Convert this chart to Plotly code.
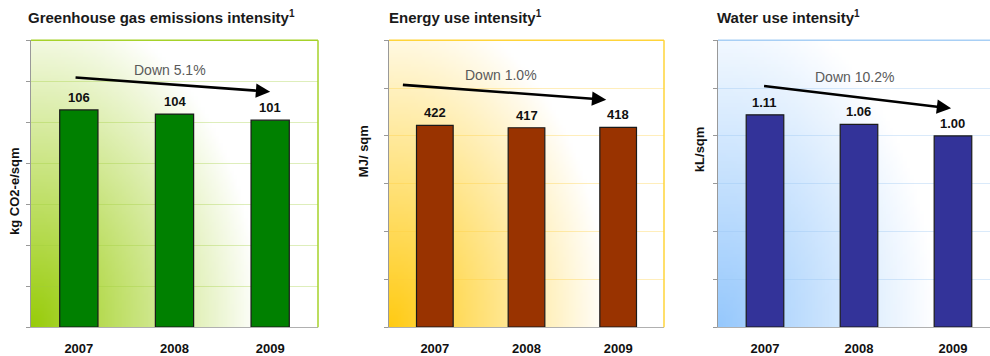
import base64, struct, zlib, math
import plotly.graph_objects as go

# ---------------- data ----------------
years = ["2007", "2008", "2009"]
ghg_values = [106, 104, 101]
ghg_labels = ["106", "104", "101"]
energy_values = [422, 417, 418]
energy_labels = ["422", "417", "418"]
water_values = [1.11, 1.06, 1.00]
water_labels = ["1.11", "1.06", "1.00"]

titles = ["Greenhouse gas emissions intensity",
          "Energy use intensity",
          "Water use intensity"]
title_note = "1"
axis_titles = ["kg CO2-e/sqm", "MJ/ sqm", "kL/sqm"]
trend_texts = ["Down 5.1%", "Down 1.0%", "Down 10.2%"]

# ---------------- style ----------------
FONT = "Liberation Sans, Arial, sans-serif"
bar_colors = ["#008000", "#993300", "#333399"]
corner_rgb = [(152, 204, 10), (255, 203, 20), (150, 200, 252)]
border_colors = ["#a6d22a", "#ffd43a", "#a8cff5"]
grid_colors = ["rgba(160,205,60,0.35)", "rgba(255,205,60,0.35)", "rgba(150,195,240,0.35)"]
y_ranges = [[0, 140], [0, 600], [0, 1.5]]
y_dticks = [20, 100, 0.25]
x_ranges = [[-0.5, 2.5], [-0.5, 2.5], [-0.5, 2.394]]
x_domains = [[31 / 990, 318 / 990], [389 / 990, 664 / 990], [718 / 990, 1.0]]
y_domain = [27 / 356, 315.5 / 356]

# arrow (tail x, tail y, head x, head y) and label anchor in data coords
arrows = [(-0.05, 121.9, 2.0, 114.9), (-0.365, 507, 1.87, 475.6), (-0.026, 1.262, 1.98, 1.144)]
trend_pos = [(0.953, 125.6), (0.726, 527.7), (0.953, 1.307)]
title_x = [26 / 990, 387 / 990, 715 / 990]
axis_title_pos = [(15 / 990, 193), (363 / 990, 152), (699 / 990, 150)]


def gradient_png(rgb, w=80, h=80):
    rows = []
    for j in range(h):
        v = 1 - j / (h - 1)  # 0 bottom, 1 top
        row = bytearray([0])
        for i in range(w):
            u = i / (w - 1)
            d = math.sqrt((u / 0.8) ** 2 + (v / 1.15) ** 2)
            t = max(0.0, 1 - d)
            for c in rgb:
                row.append(int(round(255 * (1 - t) + c * t)))
        rows.append(bytes(row))
    raw = b"".join(rows)

    def chunk(tag, data):
        return struct.pack(">I", len(data)) + tag + data + struct.pack(">I", zlib.crc32(tag + data) & 0xffffffff)

    png = b"\x89PNG\r\n\x1a\n" + chunk(b"IHDR", struct.pack(">IIBBBBB", w, h, 8, 2, 0, 0, 0)) \
        + chunk(b"IDAT", zlib.compress(raw, 9)) + chunk(b"IEND", b"")
    return "data:image/png;base64," + base64.b64encode(png).decode()


fig = go.Figure()
series = [(ghg_values, ghg_labels), (energy_values, energy_labels), (water_values, water_labels)]
annotations = []
images = []
shapes = []
for k, (vals, labs) in enumerate(series):
    xa = "x" if k == 0 else f"x{k + 1}"
    ya = "y" if k == 0 else f"y{k + 1}"
    fig.add_trace(go.Bar(x=years, y=vals, width=0.4, xaxis=xa, yaxis=ya,
                         marker=dict(color=bar_colors[k], line=dict(color="#1a1a1a", width=1.2)),
                         hoverinfo="skip", showlegend=False))
    for i, (v, lab) in enumerate(zip(vals, labs)):
        annotations.append(dict(x=i, y=v, xref=xa, yref=ya, text=f"<b>{lab}</b>", showarrow=False,
                                yanchor="bottom", yshift=3, font=dict(family=FONT, size=13, color="#111")))
    tx, ty, hx, hy = arrows[k]
    annotations.append(dict(x=hx, y=hy, ax=tx, ay=ty, xref=xa, yref=ya, axref=xa, ayref=ya,
                            text="", showarrow=True, arrowhead=2, arrowsize=1.1, arrowwidth=2.6,
                            arrowcolor="#000"))
    px, py = trend_pos[k]
    annotations.append(dict(x=px, y=py, xref=xa, yref=ya, text=trend_texts[k], showarrow=False,
                            font=dict(family=FONT, size=14, color="#5a5a5a")))
    annotations.append(dict(x=title_x[k], y=1 - 17 / 356, xref="paper", yref="paper", xanchor="left",
                            yanchor="middle",
                            text=f"<b>{titles[k]}<sup><span style='font-size:10px'>{title_note}</span></sup></b>",
                            showarrow=False, font=dict(family=FONT, size=15, color="#1a1a1a")))
    ax_x, ax_py = axis_title_pos[k]
    annotations.append(dict(x=ax_x, y=1 - ax_py / 356, xref="paper", yref="paper", textangle=-90,
                            xanchor="center", yanchor="middle",
                            text=f"<b>{axis_titles[k]}</b>", showarrow=False,
                            font=dict(family=FONT, size=13, color="#111")))
    images.append(dict(source=gradient_png(corner_rgb[k]), xref=f"{xa} domain", yref=f"{ya} domain",
                       x=0, y=1, sizex=1, sizey=1, sizing="stretch", xanchor="left", yanchor="top",
                       layer="below"))
    # coloured top / right border
    shapes.append(dict(type="line", xref=f"{xa} domain", yref=f"{ya} domain", x0=0, x1=1, y0=1, y1=1,
                       line=dict(color=border_colors[k], width=1.5)))
    if k < 2:
        shapes.append(dict(type="line", xref=f"{xa} domain", yref=f"{ya} domain", x0=1, x1=1, y0=0, y1=1,
                           line=dict(color=border_colors[k], width=1.5)))

    xkey = "xaxis" if k == 0 else f"xaxis{k + 1}"
    ykey = "yaxis" if k == 0 else f"yaxis{k + 1}"
    fig.update_layout(**{
        xkey: dict(domain=x_domains[k], anchor=ya, type="category", range=x_ranges[k],
                   showgrid=False, showline=True, linecolor="#b0b0b0", linewidth=1,
                   ticks="", tickfont=dict(family=FONT, size=13, color="#111"),
                   ticklabelstandoff=9, tickprefix="<b>", ticksuffix="</b>", fixedrange=True),
        ykey: dict(domain=y_domain, anchor=xa, range=y_ranges[k], dtick=y_dticks[k], tick0=0,
                   showgrid=True, gridcolor=grid_colors[k], gridwidth=1, showline=True,
                   linecolor="#999", linewidth=1, ticks="outside", ticklen=4, tickcolor="#999",
                   showticklabels=False, zeroline=False, fixedrange=True),
    })

fig.update_layout(width=990, height=356, margin=dict(l=0, r=0, t=0, b=0),
                  paper_bgcolor="white", plot_bgcolor="rgba(0,0,0,0)",
                  annotations=annotations, images=images, shapes=shapes,
                  font=dict(family=FONT), bargap=0.6)
fig.write_html("out.html", config={"displayModeBar": False})
